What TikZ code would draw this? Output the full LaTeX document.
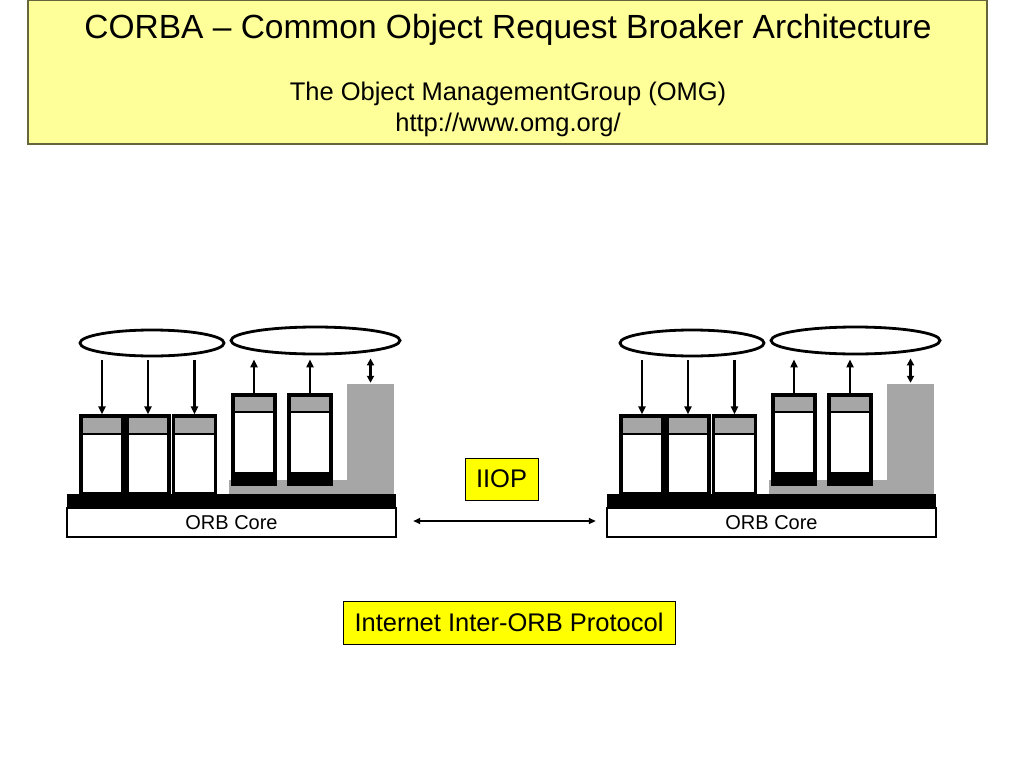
\documentclass[tikz,border=0pt]{standalone}
\usepackage{fontspec}
\setmainfont{Liberation Sans}
\usetikzlibrary{arrows.meta, positioning, shapes}
\definecolor{titleyellow}{RGB}{255, 255, 153}
\definecolor{titleborder}{RGB}{102, 102, 60}
\definecolor{iiopyellow}{RGB}{255, 255, 0}
\definecolor{orbgray}{RGB}{166, 166, 166}

\begin{document}
\begin{tikzpicture}[x=1pt,y=-1pt,
          objell/.style={draw,ellipse,line width=2.8pt,inner sep=0pt},
          stubbox/.style={draw,line width=3.2pt,fill=white,inner sep=0pt,
                          minimum width=42pt,minimum height=78pt,
                          path picture={
                            \fill[orbgray] (path picture bounding box.north west)
                              rectangle ([yshift=-18pt]path picture bounding box.north east);
                            \draw[line width=2pt] ([yshift=-18pt]path picture bounding box.north west)
                              -- ([yshift=-18pt]path picture bounding box.north east);}},
          skelbox/.style={draw,line width=3.2pt,fill=white,inner sep=0pt,
                          minimum width=42pt,minimum height=89pt,
                          path picture={
                            \fill[orbgray] (path picture bounding box.north west)
                              rectangle ([yshift=-17pt]path picture bounding box.north east);
                            \draw[line width=2pt] ([yshift=-17pt]path picture bounding box.north west)
                              -- ([yshift=-17pt]path picture bounding box.north east);
                            \fill[black] (path picture bounding box.south west)
                              rectangle ([yshift=12pt]path picture bounding box.south east);}},
          graybar/.style={fill=orbgray,inner sep=0pt},
          sig/.style={line width=2.8pt,-{Triangle[length=8pt,width=7pt]}},
          sigboth/.style={line width=2.8pt,{Triangle[length=7pt,width=7pt]}-{Triangle[length=7pt,width=7pt]}},
          yellowbox/.style={draw,fill=iiopyellow,line width=0.8pt,inner sep=0pt,
                            font=\fontsize{25.5}{28}\selectfont}]
        \useasboundingbox (0,0) rectangle (1024,768);
        % title
        \node[draw=titleborder,fill=titleyellow,line width=1.2pt,
              minimum width=959pt,minimum height=144pt](title) at (507.5,72){};
        \node[anchor=base,font=\fontsize{33.5}{36}\selectfont](heading) at (508,38)
          {CORBA – Common Object Request Broaker Architecture};
        \node[anchor=base,font=\fontsize{25.5}{28}\selectfont](omg) at (508,100)
          {The Object ManagementGroup (OMG)};
        \node[anchor=base,font=\fontsize{25.5}{28}\selectfont](omgurl) at (508,131)
          {http://www.omg.org/};
        % the two ORBs
        \foreach \g/\dx in {a/0,b/540}{
          \begin{scope}[xshift=\dx]
            \node[objell,minimum width=144pt,minimum height=26pt](client\g) at (152,343){};
            \node[objell,minimum width=169pt,minimum height=27pt](server\g) at (315.5,340.5){};
            \node[graybar,minimum width=165pt,minimum height=14pt](adapter\g) at (311.5,487){};
            \node[graybar,minimum width=47pt,minimum height=96pt](dsi\g) at (370.5,432){};
            \node[fill=black,inner sep=0pt,minimum width=329pt,minimum height=14pt](bus\g) at (231.5,501){};
            \node[draw,line width=2.4pt,fill=white,inner sep=0pt,minimum width=329pt,minimum height=29pt,
                  font=\fontsize{20}{22}\selectfont](core\g) at (231.5,522.5){ORB Core};
            \foreach \i/\x in {1/102,2/148,3/194.5}{
              \node[stubbox](stub\i\g) at (\x,455){};
              \draw[sig,shorten <=3pt] (stub\i\g.north |- client\g.south) -- (stub\i\g.north);
            }
            \foreach \i/\x in {1/254,2/310}{
              \node[skelbox](skel\i\g) at (\x,439.5){};
              \draw[sig,shorten >=4pt] (skel\i\g.north) -- (skel\i\g.north |- server\g.south);
            }
            \draw[sigboth,shorten >=3pt,shorten <=1pt] (dsi\g.north) -- (dsi\g.north |- server\g.south);
          \end{scope}
        }
        % protocol between the ORBs
        \draw[line width=1.8pt,{Triangle[length=7pt,width=6pt]}-{Triangle[length=7pt,width=6pt]},
              shorten <=16pt,shorten >=10pt] ([yshift=1.5pt]corea.east) -- ([yshift=1.5pt]coreb.west);
        \node[yellowbox,minimum width=73pt,minimum height=42pt](iiop) at (501.5,479){IIOP};
        \node[yellowbox,minimum width=332pt,minimum height=43pt](proto) at (509,622.5){Internet Inter-ORB Protocol};
      \end{tikzpicture}
\end{document}
